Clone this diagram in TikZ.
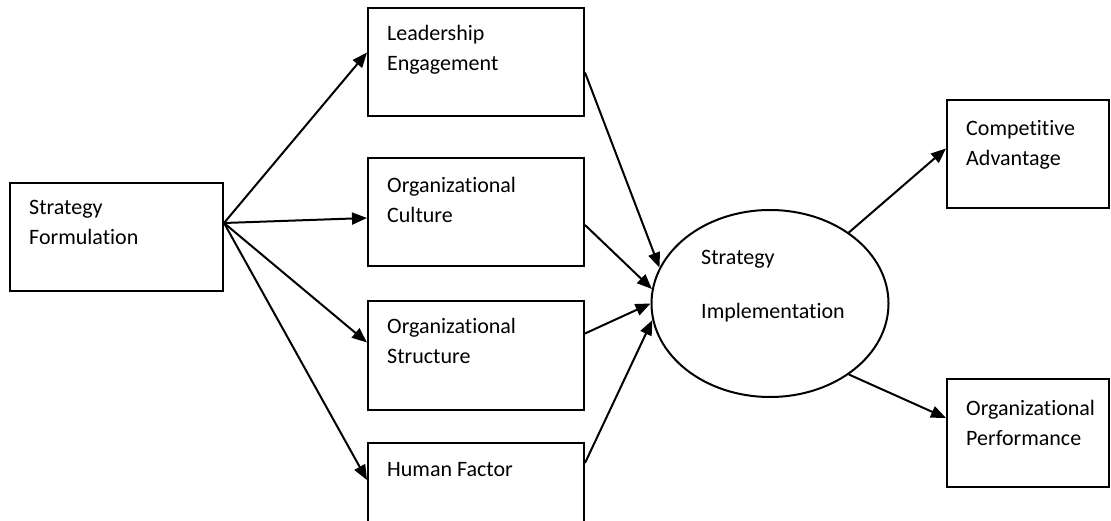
\documentclass[tikz,border=0pt]{standalone}
\usepackage{fontspec}
\setmainfont{Carlito}[Ligatures=NoCommon]
\usetikzlibrary{arrows.meta, positioning, shapes.geometric}
\tikzset{
>={Triangle[length=15pt, width=12pt]}, % filled heads on every link
every node/.style={font=\fontsize{22}{30}\selectfont}, % one text size throughout
}

\begin{document}
\begin{tikzpicture}[
  x=1pt, y=-1pt,
  box/.style={draw, line width=2pt, minimum width=216pt, minimum height=108pt, inner sep=0pt},
  oval/.style={ellipse, draw, line width=2pt, minimum width=237pt, minimum height=187pt, inner sep=0pt},
  txt/.style={align=left, inner sep=0pt},
  link/.style={->, line width=2pt}
]
  \useasboundingbox (0,0) rectangle (1111,521);

  % boxes
  \node[box, minimum width=213pt] (formulation) at (116.5,237) {};
  \node[box] (leader) at (476,62.5) {};
  \node[box] (culture) at (476,212) {};
  \node[box] (structure) at (476,355.5) {};
  \node[box] (human) at (476,497) {};
  \node[oval] (impl) at (770,303.5) {};
  \node[box, minimum width=162pt] (advantage) at (1028,154.5) {};
  \node[box, minimum width=162pt] (performance) at (1028,433) {};

  % texts
  \node[txt, below right=18pt and 20pt of formulation.north west] {Strategy\\Formulation};
  \node[txt, below right=18pt and 20pt of leader.north west] {Leadership\\Engagement};
  \node[txt, below right=20pt and 20pt of culture.north west] {Organizational\\Culture};
  \node[txt, below right=18pt and 20pt of structure.north west] {Organizational\\Structure};
  \node[txt, below right=20pt and 20pt of human.north west] {Human Factor};
  \node[txt, anchor=north west] at ([xshift=-69pt, yshift=53pt]impl.center) {Strategy\\[24pt]Implementation};
  \node[txt, below right=21pt and 20pt of advantage.north west] {Competitive\\Advantage};
  \node[txt, below right=22pt and 20pt of performance.north west] {Organizational\\Performance};

  % links
  \coordinate (fork) at ([yshift=14pt]formulation.east);
  \draw[link] (fork) -- ([yshift=10pt]leader.west);
  \draw[link] (fork) -- ([yshift=-6pt]culture.west);
  \draw[link] (fork) -- ([yshift=13pt]structure.west);
  \draw[link] (fork) -- ([yshift=17pt]human.west);
  \draw[link] ([yshift=-10pt]leader.east) -- (impl.162);
  \draw[link] ([yshift=-13pt]culture.east) -- (impl.173);
  \draw[link] ([yshift=22pt]structure.east) -- (impl.west);
  \draw[link] ([yshift=34pt]human.east) -- (impl.188);
  \draw[link] (impl.42) -- ([yshift=6pt]advantage.west);
  \draw[link] (impl.318) -- ([yshift=15pt]performance.west);
\end{tikzpicture}
\end{document}
